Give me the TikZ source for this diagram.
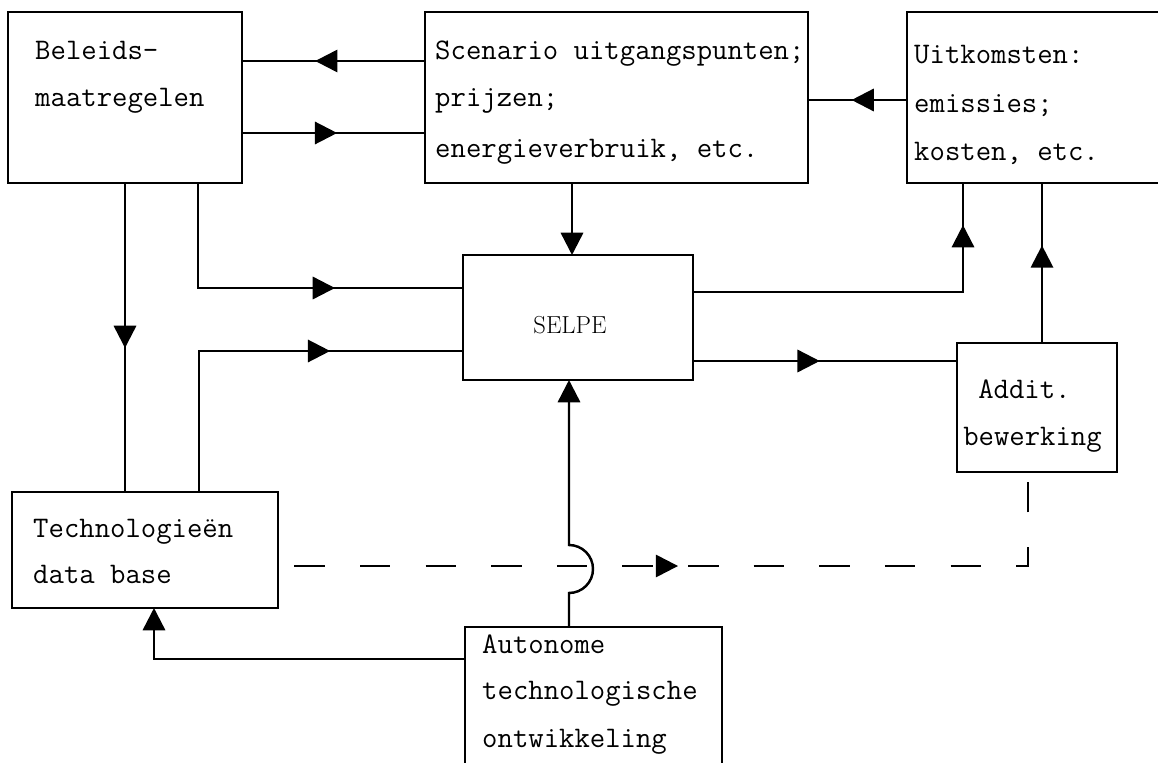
\documentclass[tikz,border=0pt]{standalone}
\usepackage{fontspec}
\usetikzlibrary{arrows.meta,calc,decorations.markings}
\begin{document}
\begin{tikzpicture}[x=0.03cm, y=-0.03cm,
  box/.style args={#1/#2}{draw, line width=2.5pt, minimum width=#1*0.03cm, minimum height=#2*0.03cm, anchor=north west, inner sep=0pt, outer sep=0pt},
  txt/.style={anchor=base west, inner sep=0pt, font=\ttfamily\fontsize{25.5}{30}\selectfont},
  conn/.style={line width=2.1pt},
  >={Triangle[length=19pt,width=19pt]},
  mid/.style={postaction={decorate}, decoration={markings, mark=at position #1 with {\arrow{>}}}},
]
\useasboundingbox (0,0) rectangle (1158,762);

% boxes
\node[box=234/171] (bel) at (8,12) {};
\node[box=383/171] (scen) at (425,12) {};
\node[box=263/171] (uit) at (907,12) {};
\node[box=230/125] (selpe) at (463,255) {};
\node[box=160/129] (add) at (957,343) {};
\node[box=266/116] (tech) at (12,492) {};
\node[box=257/150] (aut) at (465,627) {};

% texts
\node[txt] (t1a) at (35,60) {Beleids-};
\node[txt] (t1b) at (35,107) {maatregelen};
\node[txt] (t2a) at (435,60) {Scenario uitgangspunten;};
\node[txt] (t2b) at (435,107) {prijzen;};
\node[txt] (t2c) at (435,157) {energieverbruik, etc.};
\node[txt] (t3a) at (914,64) {Uitkomsten:};
\node[txt] (t3b) at (914,113) {emissies;};
\node[txt] (t3c) at (914,160) {kosten, etc.};
\node[anchor=base, inner sep=0pt, font=\rmfamily\fontsize{21}{24}\selectfont] (t4) at (570,333) {SELPE};
\node[txt] (t5a) at (978,398) {Addit.};
\node[txt] (t5b) at (963,445) {bewerking};
\node[txt] (t6a) at (33,537) {Technologieën};
\node[txt] (t6b) at (33,583) {data base};
\node[txt] (t7a) at (482,653) {Autonome};
\node[txt] (t7b) at (482,699) {technologische};
\node[txt] (t7c) at (482,747) {ontwikkeling};

% connectors
\draw[conn, mid=0.6] ($(scen.north west)+(0,49)$) -- ($(bel.north east)+(0,49)$);
\draw[conn, mid=0.52] ($(bel.north east)+(0,121)$) -- ($(scen.north west)+(0,121)$);
\draw[conn, mid=0.56] ($(uit.north west)+(0,88)$) -- ($(scen.north east)+(0,88)$);
\draw[conn, ->] ($(scen.south west)+(147,0)$) -- ($(selpe.north west)+(109,0)$);
\draw[conn, mid=0.654] ($(bel.south west)+(190,0)$) |- ($(selpe.north west)+(0,33)$);
\draw[conn, mid=0.534] ($(bel.south west)+(117,0)$) -- ($(tech.north west)+(113,0)$);
\draw[conn, mid=0.672] ($(tech.north west)+(187,0)$) |- ($(selpe.north west)+(0,96)$);
\draw[conn, mid=0.889] ($(selpe.north east)+(0,37)$) -| ($(uit.south west)+(56,0)$);
\draw[conn, mid=0.48] ($(selpe.north east)+(0,106)$) -- ($(add.north west)+(0,18)$);
\draw[conn, mid=0.61] ($(add.north west)+(85,0)$) -- ($(uit.south west)+(135,0)$);
\draw[conn, ->] ($(aut.north west)+(104,0)$) -- ++(0,-34) arc[start angle=90, end angle=-90, radius=24] -- ($(selpe.south west)+(106,0)$);
\draw[conn, ->] ($(aut.north west)+(0,32)$) -| ($(tech.south west)+(142,0)$);
\draw[conn, dash pattern=on 26pt off 30pt, shorten <=14pt, shorten >=7pt, mid=0.474] ($(tech.north east)+(0,74)$) -| ($(add.south west)+(71,0)$);
\end{tikzpicture}
\end{document}
